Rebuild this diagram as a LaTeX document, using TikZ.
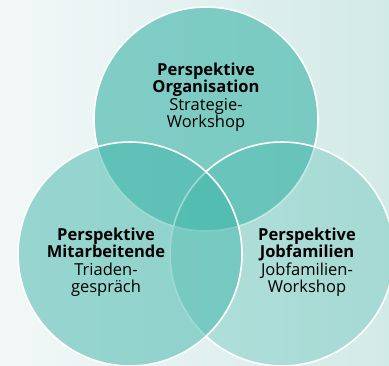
\documentclass[tikz,border=0pt]{standalone}
\usepackage{fontspec}
\setmainfont{Open Sans}
\usetikzlibrary{positioning}
\definecolor{teal}{RGB}{64,182,170}
\definecolor{paleleft}{RGB}{242,248,248}
\definecolor{paleright}{RGB}{210,234,231}
\tikzset{
  ring/.style={draw=white,line width=1.6pt,fill=teal,fill opacity=#1},
  ring/.default=0.5,
  label/.style={align=center,font=\fontsize{16.5}{17.5}\selectfont,text=black,text opacity=1},
}
\begin{document}
\begin{tikzpicture}[x=1pt,y=-1pt]
  % backdrop
  \shade[left color=paleleft,right color=paleright] (0,0) rectangle (389,365);
  \useasboundingbox (0,0) rectangle (389,365);
  % the three perspectives
  \begin{scope}
    \clip (0,0) rectangle (389,365);
    \draw[ring=0.62] (206,119) circle (112) coordinate (org);
    \draw[ring=0.3] (282,254) circle (112) coordinate (job);
    \draw[ring=0.5] (130,254) circle (112) coordinate (mit);
  \end{scope}
  \node[label] (torg) at (206,97) {\textbf{Perspektive}\\\textbf{Organisation}\\Strategie-\\Workshop};
  \node[label] (tmit) at (106,262) {\textbf{Perspektive}\\\textbf{Mitarbeitende}\\Triaden-\\gespräch};
  \node[label] (tjob) at (307,262) {\textbf{Perspektive}\\\textbf{Jobfamilien}\\Jobfamilien-\\Workshop};
\end{tikzpicture}
\end{document}
